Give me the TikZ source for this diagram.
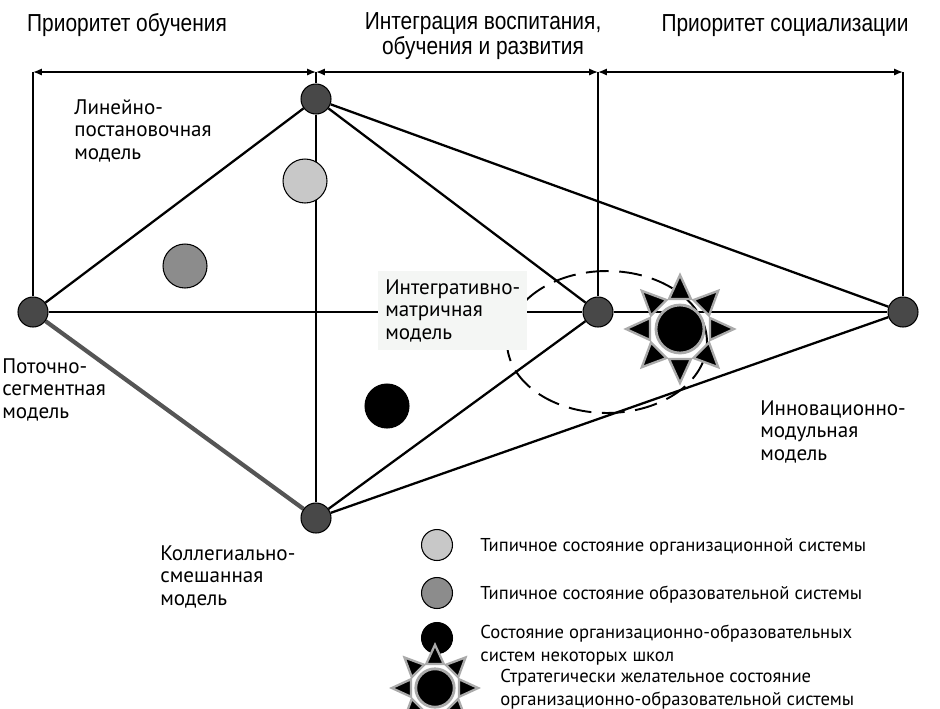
\documentclass[tikz,border=0pt]{standalone}
\usepackage{fontspec}
\setmainfont{PT Sans}
\newfontfamily\headfont[FakeStretch=0.85]{Liberation Sans}
\usetikzlibrary{
  arrows.meta,
  backgrounds
}
\definecolor{nodegray}{RGB}{72,72,72}
\definecolor{lightstate}{RGB}{200,200,200}
\definecolor{midstate}{RGB}{140,140,140}
\definecolor{sunrim}{RGB}{170,170,170}
\definecolor{edgegray}{RGB}{85,85,85}
\definecolor{boxfill}{RGB}{244,246,244}

\tikzset{
  model/.style={circle, draw=black, line width=0.6pt, fill=nodegray,
    minimum size=0.6cm, inner sep=0pt},
  state/.style={circle, draw=black, line width=0.6pt, minimum size=0.88cm, inner sep=0pt},
  legstate/.style={circle, draw=black, line width=0.6pt, minimum size=0.62cm, inner sep=0pt},
  modeltext/.style={align=left, inner sep=0pt, anchor=base west,
    font=\fontsize{12}{12.8}\selectfont},
  legendtext/.style={align=left, inner sep=0pt, anchor=base west,
    font=\fontsize{10.6}{12.6}\selectfont},
  headtext/.style={align=center, inner sep=0pt, anchor=base,
    font=\headfont\fontsize{14}{13}\selectfont},
  span/.style={{Latex[length=5pt,width=4pt]}-{Latex[length=5pt,width=4pt]}, line width=0.8pt},
  axisline/.style={line width=0.6pt},
  link/.style={line width=1.3pt},
  sunmark/.pic={
    \foreach \a in {0,45,...,315}
      \filldraw[fill=black, draw=sunrim, line width=1.3pt, rotate=\a]
        (30,-11) -- (54,0) -- (30,11) -- cycle;
    \filldraw[fill=black, draw=sunrim, line width=1.6pt] (0,0) circle (0.48cm);
  }
}

\begin{document}
\begin{tikzpicture}[x=0.02cm, y=-0.02cm]
  \useasboundingbox (0,0) rectangle (940,708);

  % Headings (base = last line)
  \node[headtext] (prio1) at (127,31) {Приоритет обучения};
  \node[headtext] (prio2) at (483,54) {Интеграция воспитания,\\ обучения и  развития};
  \node[headtext] (prio3) at (785,31) {Приоритет социализации};

  % Span marks
  \coordinate (s0) at (33,72);
  \coordinate (s1) at (316,72);
  \coordinate (s2) at (598,72);
  \coordinate (s3) at (903,72);

  % Models
  \node[model] (lin) at (316,99) {};
  \node[model] (pot) at (33,312) {};
  \node[model] (int) at (598,312) {};
  \node[model] (inn) at (903,312) {};
  \node[model] (kol) at (316,518) {};

  \begin{scope}[on background layer]
    \draw[span] (s0) -- (s1);
    \draw[span] (s1) -- (s2);
    \draw[span] (s2) -- (s3);
    \draw[axisline] (s0) -- (pot);
    \draw[axisline] (s1) -- (lin);
    \draw[axisline] (s2) -- (int);
    \draw[axisline] (s3) -- (inn);
    \draw[axisline] (lin) -- (kol);
    \draw[axisline] (pot) -- (int);
    \draw[axisline] (int) -- (inn);
    \draw[link] (lin) -- (pot);
    \draw[link] (lin) -- (int);
    \draw[link] (lin) -- (inn);
    \draw[link] (kol) -- (int);
    \draw[link] (kol) -- (inn);
    \draw[edgegray, line width=2.4pt] (pot) -- (kol);
  \end{scope}

  % States
  \node[state, fill=lightstate] (sorg) at (305,181) {};
  \node[state, fill=midstate] (sedu) at (185,266) {};
  \node[state, fill=black] (ssch) at (387,406) {};

  % Target region
  \draw[line width=1.1pt, dash pattern=on 13pt off 6pt] (607,342) ellipse [x radius=2cm, y radius=1.42cm];
  \pic (goal) at (680,329) {sunmark};

  % Model labels (base = last line)
  \node[modeltext] (linlbl) at (74,159) {Линейно-\\постановочная\\модель};
  \node[modeltext, fill=boxfill, inner xsep=0.14cm, inner ysep=0.16cm] (intlbl) at (378,339)
    {Интегративно-\\матричная\\модель};
  \node[modeltext] (potlbl) at (2,418) {Поточно-\\сегментная\\модель};
  \node[modeltext] (innlbl) at (760,460) {Инновационно-\\модульная\\модель};
  \node[modeltext] (kollbl) at (160,605) {Коллегиально-\\смешанная\\модель};

  % Legend
  \node[legstate, fill=lightstate] (leg1) at (437,545) {};
  \node[legstate, fill=midstate] (leg2) at (437,593) {};
  \node[legstate, fill=black] (leg3) at (437,638) {};
  \pic[scale=0.8] (leg4) at (435,688) {sunmark};
  \node[legendtext] (leg1txt) at (480,551) {Типичное состояние организационной системы};
  \node[legendtext] (leg2txt) at (480,599) {Типичное состояние образовательной системы};
  \node[legendtext] (leg3txt) at (480,661) {Состояние организационно-образовательных\\систем некоторых школ};
  \node[legendtext] (leg4txt) at (500,705) {Стратегически желательное состояние\\организационно-образовательной системы};
\end{tikzpicture}
\end{document}
